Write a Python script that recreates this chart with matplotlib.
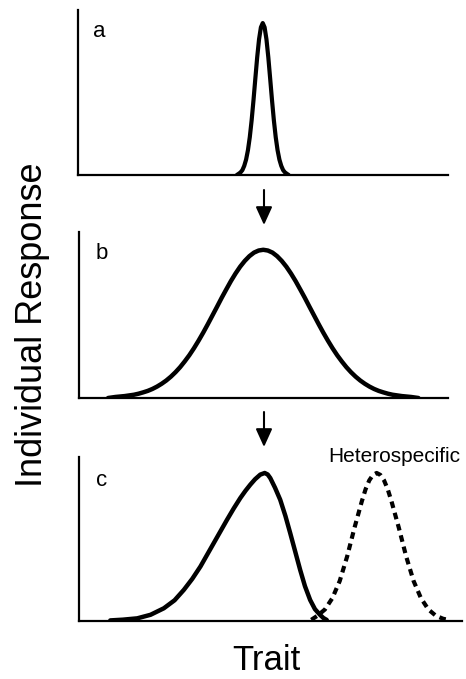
import matplotlib
matplotlib.use("Agg")
import matplotlib.pyplot as plt
from matplotlib.patches import FancyArrowPatch

plt.rcParams['font.family'] = ['Liberation Sans', 'DejaVu Sans']

# panel a: narrow response curve (trait, response)
a_trait = [4.3, 4.35, 4.4, 4.45, 4.5, 4.55, 4.6, 4.65, 4.7, 4.75, 4.8, 4.85, 4.9, 4.95,
           5.0, 5.05, 5.1, 5.15, 5.2, 5.25, 5.3, 5.35, 5.4, 5.45, 5.5, 5.55, 5.6,
           5.65, 5.7]
a_resp = [0.0, 0.008, 0.017, 0.032, 0.06, 0.101, 0.163, 0.249, 0.36, 0.492, 0.635,
          0.775, 0.893, 0.972, 1.0, 0.972, 0.893, 0.775, 0.635, 0.492, 0.36, 0.249,
          0.163, 0.101, 0.06, 0.032, 0.017, 0.008, 0.0]

# panel b: broad response curve
b_trait = [0.8, 1.0, 1.25, 1.5, 1.625, 1.75, 1.875, 2.0, 2.125, 2.25, 2.375, 2.5,
           2.625, 2.75, 2.875, 3.0, 3.125, 3.25, 3.375, 3.5, 3.625, 3.75, 3.875,
           4.0, 4.125, 4.25, 4.375, 4.5, 4.625, 4.75, 4.875, 5.0,
           5.125, 5.25, 5.375, 5.5, 5.625, 5.75, 5.875, 6.0, 6.125, 6.25, 6.375,
           6.5, 6.625, 6.75, 6.875, 7.0, 7.125, 7.25, 7.375, 7.5, 7.625, 7.75,
           7.875, 8.0, 8.125, 8.25, 8.375, 8.5, 8.75, 9.0, 9.2]
b_resp = [0.0, 0.007, 0.013, 0.022, 0.029, 0.038, 0.048, 0.061, 0.077, 0.096, 0.118,
          0.144, 0.174, 0.208, 0.247, 0.289, 0.336, 0.387, 0.441, 0.498, 0.557,
          0.616, 0.676, 0.733, 0.789, 0.840, 0.886, 0.925, 0.957, 0.981, 0.995, 1.0,
          0.995, 0.981, 0.957, 0.925, 0.886, 0.840, 0.789, 0.733, 0.676, 0.616,
          0.557, 0.498, 0.441, 0.387, 0.336, 0.289, 0.247, 0.208, 0.174, 0.144,
          0.118, 0.096, 0.077, 0.061, 0.048, 0.038, 0.029, 0.022, 0.013, 0.007, 0.0]

# panel c: skewed conspecific curve
c_trait = [0.86, 1.2, 1.59, 1.95, 2.31, 2.6, 2.85, 3.08, 3.30, 3.48, 3.66, 3.84, 4.02,
           4.2, 4.38, 4.52, 4.65, 4.78, 4.92, 5.04, 5.12, 5.19, 5.32, 5.46, 5.6,
           5.73, 5.87, 6.0, 6.13, 6.27, 6.4, 6.54, 6.63, 6.72]
c_resp = [0.004, 0.009, 0.018, 0.042, 0.086, 0.14, 0.21, 0.285, 0.368, 0.447, 0.526,
          0.605, 0.684, 0.76, 0.831, 0.88, 0.921, 0.958, 0.989, 1.0, 0.99, 0.966,
          0.90, 0.819, 0.71, 0.594, 0.465, 0.345, 0.235, 0.142, 0.08, 0.041, 0.02,
          0.007]

# panel c: heterospecific curve (dotted)
h_trait = [6.3, 6.47, 6.67, 6.87, 7.07, 7.27, 7.47, 7.67, 7.77, 7.87, 7.97, 8.07,
           8.17, 8.27, 8.37, 8.47, 8.67, 8.87, 9.07, 9.27, 9.47, 9.67, 9.87, 10.0]
h_resp = [0.008, 0.036, 0.078, 0.154, 0.27, 0.435, 0.63, 0.81, 0.89, 0.95, 0.987,
          1.0, 0.987, 0.95, 0.89, 0.81, 0.63, 0.435, 0.27, 0.154, 0.078, 0.036,
          0.015, 0.008]

W, H = 466, 679
fig = plt.figure(figsize=(W / 100, H / 100), dpi=100)


def px_axes(x0, y_top, x1, y_bot):
    return fig.add_axes([x0 / W, 1 - y_bot / H, (x1 - x0) / W, (y_bot - y_top) / H])


def style(ax, xmax, ytop):
    ax.set_xlim(0, xmax)
    ax.set_ylim(0, ytop)
    for s in ['top', 'right']:
        ax.spines[s].set_visible(False)
    for s in ['left', 'bottom']:
        ax.spines[s].set_linewidth(1.6)
        ax.spines[s].set_color('black')
    ax.set_xticks([])
    ax.set_yticks([])
    ax.patch.set_alpha(0)


line_kw = dict(color='black', solid_joinstyle='round', solid_capstyle='round')

ax_a = px_axes(77.5, 10, 448, 175)
style(ax_a, 10.0, 1.086)
ax_a.plot(a_trait, a_resp, lw=3.0, **line_kw)
ax_a.text(0.042, 0.867, 'a', transform=ax_a.transAxes, fontsize=16, va='center')

ax_b = px_axes(78.5, 232, 448, 398)
style(ax_b, 10.0, 1.12)
ax_b.plot(b_trait, b_resp, lw=3.2, **line_kw)
ax_b.text(0.047, 0.873, 'b', transform=ax_b.transAxes, fontsize=16, va='center')

ax_c = px_axes(78.5, 457, 462, 621)
style(ax_c, 10.38, 1.108)
ax_c.plot(c_trait, c_resp, lw=3.2, **line_kw)
ax_c.plot(h_trait, h_resp, color='black', lw=3.0, dashes=(1.6, 1.2),
          dash_capstyle='butt')
ax_c.text(0.046, 0.854, 'c', transform=ax_c.transAxes, fontsize=16, va='center')
ax_c.text(328 / W, 1 - 462 / H, 'Heterospecific', transform=fig.transFigure,
          fontsize=15, va='baseline', ha='left')

# arrows between panels
for y0, y1 in [(190, 225), (412, 447)]:
    fig.add_artist(FancyArrowPatch(
        (264 / W, 1 - y0 / H), (264 / W, 1 - y1 / H), transform=fig.transFigure,
        arrowstyle='-|>,head_length=0.55,head_width=0.25', mutation_scale=20,
        lw=1.5, color='black', shrinkA=0, shrinkB=0))

fig.text(33 / W, 1 - 325 / H, 'Individual Response', rotation=90, fontsize=26,
         ha='center', va='center')
fig.text(266 / W, 1 - 677 / H, 'Trait', fontsize=25, ha='center', va='bottom')

fig.savefig('out.png', dpi=100)
